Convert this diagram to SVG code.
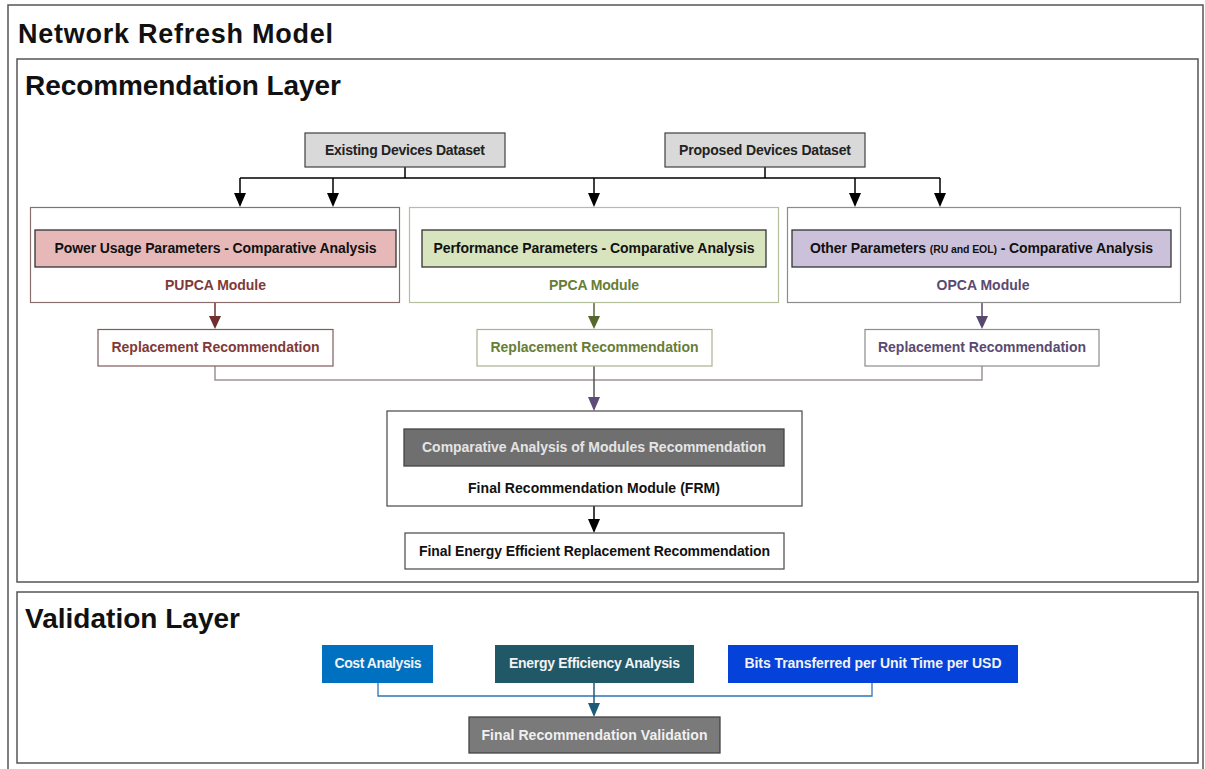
<svg xmlns="http://www.w3.org/2000/svg" width="1205" height="769" viewBox="0 0 1205 769">
<style>
text{font-family:"Liberation Sans",Arial,sans-serif;font-weight:bold;}
.h1{font-size:27px;fill:#111;}
.h2{font-size:28px;fill:#111;}
.lbl{font-size:14px;text-anchor:middle;}
.frame{fill:none;stroke:#555;stroke-width:1.5;}
.ds{fill:#d9d9d9;stroke:#404040;stroke-width:1.2;}
.inner{stroke:#333;stroke-width:1.3;}
</style>
<defs>
<marker id="mBlack" markerUnits="userSpaceOnUse" markerWidth="14" markerHeight="14" refX="6" refY="13" orient="auto-start-reverse" viewBox="0 0 12 14"><path d="M0,0 L12,0 L6,14 Z" fill="#000" transform="rotate(0)"/></marker>
</defs>
<rect x="0" y="0" width="1205" height="769" fill="#fff"/>
<rect x="8" y="5" width="1195" height="790" class="frame"/>
<text x="18" y="43" class="h1" textLength="315">Network Refresh Model</text>

<g id="recommendation-layer">
<rect x="17" y="59" width="1181" height="523" class="frame"/>
<text x="25" y="95" class="h2" textLength="316">Recommendation Layer</text>
</g>

<g id="connectors">
<g stroke="#000" stroke-width="1.5" fill="none">
<path d="M405,167 V178 M765,167 V178 M240,178 H940"/>
<path d="M240,178 V195 M333,178 V195 M594,178 V195 M855,178 V195 M940,178 V195"/>
<path d="M594,506 V521"/>
</g>
<g fill="#000">
<path d="M234,193 L246,193 L240,207 Z"/>
<path d="M327,193 L339,193 L333,207 Z"/>
<path d="M588,193 L600,193 L594,207 Z"/>
<path d="M849,193 L861,193 L855,207 Z"/>
<path d="M934,193 L946,193 L940,207 Z"/>
<path d="M588,519 L600,519 L594,533 Z"/>
</g>
<path d="M215,302 V318" stroke="#6e2f2d" stroke-width="1.5" fill="none"/>
<path d="M209,316 L221,316 L215,329 Z" fill="#6e2f2d"/>
<path d="M594,302 V318" stroke="#56692c" stroke-width="1.5" fill="none"/>
<path d="M588,316 L600,316 L594,329 Z" fill="#56692c"/>
<path d="M982,302 V318" stroke="#574870" stroke-width="1.5" fill="none"/>
<path d="M976,316 L988,316 L982,329 Z" fill="#574870"/>
<path d="M215,366 V380 H982 V366" stroke="#9d9494" stroke-width="1.5" fill="none"/>
<path d="M594,366 V398" stroke="#555" stroke-width="1.5" fill="none"/>
<path d="M588,397 L600,397 L594,411 Z" fill="#5f4b7a"/>
<path d="M378,683 V696 H872 V683" stroke="#2e75b6" stroke-width="1.3" fill="none"/>
<path d="M594,683 V704" stroke="#1f5b78" stroke-width="1.5" fill="none"/>
<path d="M588,703 L600,703 L594,717 Z" fill="#1f5b78"/>
</g>

<g id="existing-dataset">
<rect x="305" y="133" width="200" height="34" class="ds"/>
<text x="405" y="155" class="lbl" fill="#222" textLength="160">Existing Devices Dataset</text>
</g>
<g id="proposed-dataset">
<rect x="665" y="133" width="200" height="34" class="ds"/>
<text x="765" y="155" class="lbl" fill="#222" textLength="172">Proposed Devices Dataset</text>
</g>

<g id="pupca-module">
<rect x="30.5" y="207.5" width="369" height="95" fill="#fff" stroke="#8a6e6e" stroke-width="1.2"/>
<rect x="35" y="230" width="361" height="37" fill="#e6b9b8" class="inner"/>
<text x="215.5" y="253" class="lbl" fill="#111" textLength="322">Power Usage Parameters - Comparative Analysis</text>
<text x="215.5" y="290" class="lbl" fill="#7f3a38" textLength="101">PUPCA Module</text>
</g>
<g id="pupca-replacement">
<rect x="98" y="329.5" width="235" height="36.5" fill="#fff" stroke="#7d5c5c" stroke-width="1.2"/>
<text x="215.5" y="352" class="lbl" fill="#7f3a38" textLength="208">Replacement Recommendation</text>
</g>

<g id="ppca-module">
<rect x="409.5" y="207.5" width="369" height="95" fill="#fff" stroke="#b4bf9c" stroke-width="1.2"/>
<rect x="422" y="230" width="344" height="37" fill="#d7e4bd" class="inner"/>
<text x="594" y="253" class="lbl" fill="#111" textLength="321">Performance Parameters - Comparative Analysis</text>
<text x="594" y="290" class="lbl" fill="#687d35" textLength="90">PPCA Module</text>
</g>
<g id="ppca-replacement">
<rect x="477" y="329.5" width="235" height="36.5" fill="#fff" stroke="#a9b38f" stroke-width="1.2"/>
<text x="594.5" y="352" class="lbl" fill="#687d35" textLength="208">Replacement Recommendation</text>
</g>

<g id="opca-module">
<rect x="787.5" y="207.5" width="393" height="95" fill="#fff" stroke="#8c8c8c" stroke-width="1.2"/>
<rect x="792" y="230" width="379" height="37" fill="#ccc1da" class="inner"/>
<text x="981.5" y="253" class="lbl" fill="#111" textLength="343">Other Parameters <tspan font-size="10.5px">(RU and EOL)</tspan> - Comparative Analysis</text>
<text x="983" y="290" class="lbl" fill="#5a4a72" textLength="93">OPCA Module</text>
</g>
<g id="opca-replacement">
<rect x="865" y="329.5" width="234" height="36.5" fill="#fff" stroke="#8c8c8c" stroke-width="1.2"/>
<text x="982" y="352" class="lbl" fill="#5a4a72" textLength="208">Replacement Recommendation</text>
</g>

<g id="frm-module">
<rect x="387" y="411" width="415" height="95" fill="#fff" stroke="#555" stroke-width="1.3"/>
<rect x="404" y="429" width="380" height="37" fill="#6f6f6f" stroke="#444" stroke-width="1.3"/>
<text x="594" y="452" class="lbl" fill="#e4e4e4" textLength="344">Comparative Analysis of Modules Recommendation</text>
<text x="594" y="493" class="lbl" fill="#111" textLength="252">Final Recommendation Module (FRM)</text>
</g>
<g id="final-energy">
<rect x="405" y="533" width="379" height="36" fill="#fff" stroke="#555" stroke-width="1.3"/>
<text x="594.5" y="556" class="lbl" fill="#111" textLength="351">Final Energy Efficient Replacement Recommendation</text>
</g>

<g id="validation-layer">
<rect x="17" y="592" width="1181" height="171" class="frame"/>
<text x="25" y="628" class="h2" textLength="215">Validation Layer</text>
</g>
<g id="cost-analysis">
<rect x="322" y="645" width="111" height="38" fill="#0070c0"/>
<text x="378" y="668" class="lbl" fill="#f2f2f2" textLength="87">Cost Analysis</text>
</g>
<g id="energy-efficiency">
<rect x="495" y="645" width="199" height="38" fill="#215868"/>
<text x="594.5" y="668" class="lbl" fill="#f2f2f2" textLength="171">Energy Efficiency Analysis</text>
</g>
<g id="bits-transferred">
<rect x="728" y="645" width="290" height="38" fill="#0442d9"/>
<text x="873" y="668" class="lbl" fill="#f2f2f2" textLength="257">Bits Transferred per Unit Time per USD</text>
</g>
<g id="final-validation">
<rect x="469" y="717" width="251" height="36" fill="#7a7a7a" stroke="#444" stroke-width="1.3"/>
<text x="594.5" y="740" class="lbl" fill="#f0f0f0" textLength="226">Final Recommendation Validation</text>
</g>
</svg>
